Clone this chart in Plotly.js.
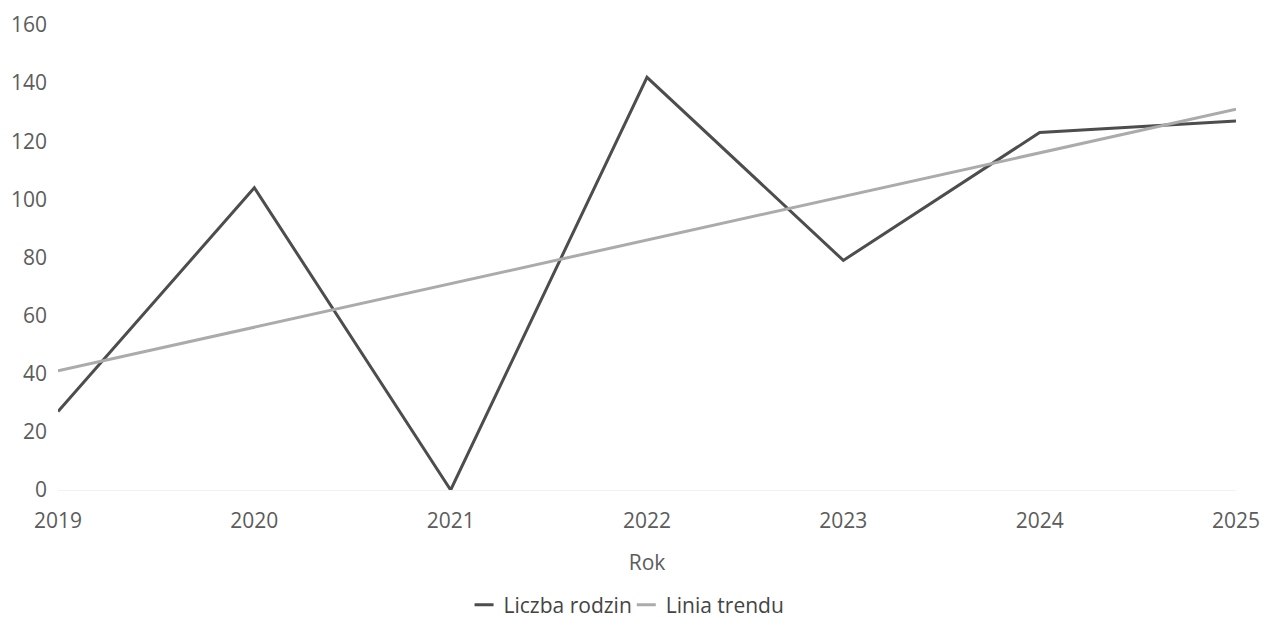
<!DOCTYPE html>
<html><head><meta charset="utf-8">
<script src="https://cdn.plot.ly/plotly-3.0.1.min.js"></script>
<style>html,body{margin:0;padding:0;background:#fff}#chart{width:1263px;height:620px}</style>
</head><body><div id="chart"></div>
<script>
const years = ['2019','2020','2021','2022','2023','2024','2025'];
const families = [27, 104, 0, 142, 79, 123, 127];
const trendYears = ['2019','2025'];
const trendValues = [41, 131];
const yTicks = [0,20,40,60,80,100,120,140,160];

const traces = [
  {x: years, y: families, type:'scatter', mode:'lines', name:'Liczba rodzin',
   line:{color:'#4d4d4d', width:3}},
  {x: trendYears, y: trendValues, type:'scatter', mode:'lines', name:'Linia trendu',
   line:{color:'#ababab', width:3}}
];
const layout = {
  width:1263, height:620,
  margin:{l:58, r:27, t:25, b:130},
  paper_bgcolor:'#fff', plot_bgcolor:'#fff',
  font:{family:'"Open Sans", sans-serif', size:21, color:'#5c5c5c'},
  xaxis:{type:'category', showgrid:false, zeroline:false, showline:false,
         title:{text:'Rok', font:{size:21, color:'#5c5c5c'}, standoff:22}, ticklen:0, ticklabelstandoff:16},
  yaxis:{range:[0,160], tickvals:yTicks, showgrid:false, zeroline:true, zerolinecolor:'#f2f2f2',
         showline:false, ticklen:0, ticklabelstandoff:10},
  legend:{orientation:'h', xref:'paper', x:0.4924, xanchor:'center', yref:'container', y:0.024, yanchor:'middle',
          font:{size:21, color:'#444'}},
  showlegend:true
};
Plotly.newPlot('chart', traces, layout, {displayModeBar:false, staticPlot:true}).then(gd => {
  gd.querySelectorAll('.legend .legendlines path').forEach(p => p.setAttribute('d', 'M5,0h19'));
  gd.querySelectorAll('.legend text.legendtext').forEach(t => t.setAttribute('x', '34'));
  const groups = gd.querySelectorAll('.legend .traces');
  if (groups.length > 1) {
    const g = groups[1];
    const m = /translate\(\s*([-\d.]+)[ ,]+([-\d.]+)\s*\)/.exec(g.getAttribute('transform') || '');
    if (m) g.setAttribute('transform', 'translate(' + (parseFloat(m[1]) - 11) + ',' + m[2] + ')');
  }
});
</script></body></html>
